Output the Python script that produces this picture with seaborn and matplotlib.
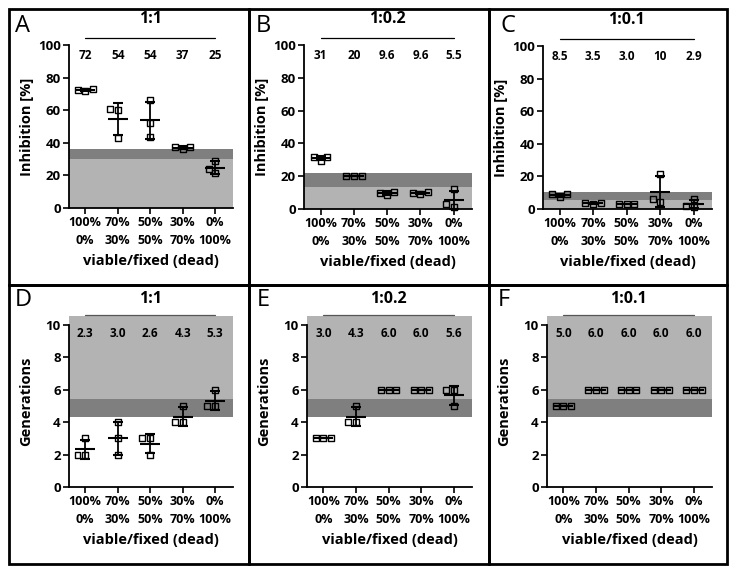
import numpy as np
import pandas as pd
import seaborn as sns
import matplotlib.pyplot as plt
from matplotlib.patches import Rectangle

sns.set_theme(style="ticks", rc={"axes.edgecolor": "black", "xtick.color": "black",
                                 "ytick.color": "black", "text.color": "black",
                                 "axes.labelcolor": "black"})
plt.rcParams["font.family"] = ["Open Sans", "DejaVu Sans"]
plt.rcParams["font.weight"] = "bold"
plt.rcParams["axes.labelweight"] = "bold"

# ---------------- data ----------------
categories = ["100%\n0%", "70%\n30%", "50%\n50%", "30%\n70%", "0%\n100%"]

inhib_A = [[71.5, 73.0, 72.5], [60.0, 60.5, 43.0], [66.0, 52.0, 43.5], [36.0, 37.5, 37.5], [21.5, 29.0, 24.0]]
inhib_B = [[31.5, 29.5, 32.0], [20.0, 20.0, 20.0], [8.5, 10.5, 10.0], [9.0, 10.5, 9.5], [12.0, 3.0, 1.5]]
inhib_C = [[7.5, 9.0, 9.0], [3.3, 3.8, 3.4], [3.0, 3.0, 3.0], [21.5, 4.0, 6.0], [1.0, 6.0, 2.0]]
gen_D = [[3, 2, 2], [4, 3, 2], [3, 3, 2], [5, 4, 4], [6, 5, 5]]
gen_E = [[3, 3, 3], [5, 4, 4], [6, 6, 6], [6, 6, 6], [6, 6, 5]]
gen_F = [[5, 5, 5], [6, 6, 6], [6, 6, 6], [6, 6, 6], [6, 6, 6]]

labels_A = ["72", "54", "54", "37", "25"]
labels_B = ["31", "20", "9.6", "9.6", "5.5"]
labels_C = ["8.5", "3.5", "3.0", "10", "2.9"]
labels_D = ["2.3", "3.0", "2.6", "4.3", "5.3"]
labels_E = ["3.0", "4.3", "6.0", "6.0", "5.6"]
labels_F = ["5.0", "6.0", "6.0", "6.0", "6.0"]

ratios = ["1:1", "1:0.2", "1:0.1", "1:1", "1:0.2", "1:0.1"]
letters = ["A", "B", "C", "D", "E", "F"]

# bands: (light_lo, light_hi, dark_lo, dark_hi)
band_A = (0, 30, 30, 36)
band_B = (0, 13.5, 13.5, 22)
band_C = (0, 5.5, 5.5, 10.5)
band_gen = (5.4, 10.55, 4.3, 5.4)

LIGHT = "#b3b3b3"
DARK = "#7f7f7f"

W, H = 740, 574
fig = plt.figure(figsize=(W / 100, H / 100), dpi=100)


def px_axes(left, right, top, bottom):
    return fig.add_axes([left / W, 1 - bottom / H, (right - left) / W, (bottom - top) / H])


panels = [
    dict(vals=inhib_A, labels=labels_A, band=band_A, box=(69, 233, 45, 208)),
    dict(vals=inhib_B, labels=labels_B, band=band_B, box=(304, 472, 45, 209)),
    dict(vals=inhib_C, labels=labels_C, band=band_C, box=(543, 712, 46, 209)),
    dict(vals=gen_D, labels=labels_D, band=band_gen, box=(69, 233, 316, 487)),
    dict(vals=gen_E, labels=labels_E, band=band_gen, box=(307, 472, 316, 487)),
    dict(vals=gen_F, labels=labels_F, band=band_gen, box=(547, 712, 316, 487)),
]

letter_pos = [(15, 32), (256, 32), (500, 32), (15, 306), (257, 306), (498, 306)]
frames = [(9, 249, 9, 285), (249, 489, 9, 285), (489, 727, 9, 285),
          (9, 249, 285, 564), (249, 489, 285, 564), (489, 727, 285, 564)]

for i, p in enumerate(panels):
    ax = px_axes(*p["box"])
    vals = np.array(p["vals"], dtype=float)
    df = pd.DataFrame({"cat": np.repeat(categories, vals.shape[1]), "val": vals.ravel()})
    gen = i >= 3

    l0, l1, d0, d1 = p["band"]
    ax.axhspan(l0, l1, color=LIGHT, lw=0, zorder=0)
    ax.axhspan(d0, d1, color=DARK, lw=0, zorder=0)

    sns.swarmplot(data=df, x="cat", y="val", order=categories, marker="s", size=4.3,
                  color="black", edgecolor="black", linewidth=1.0, ax=ax, zorder=3)
    for c in ax.collections:
        c.set_facecolor("none")
        c.set_edgecolor("black")
        c.set_clip_on(False)

    means = vals.mean(axis=1)
    sds = vals.std(axis=1, ddof=1)
    ax.errorbar(np.arange(len(categories)), means, yerr=sds, fmt="_", color="black",
                markersize=15, mew=1.5, elinewidth=1.3, capsize=3.5, capthick=1.3,
                zorder=4, clip_on=False)

    ax.set_xlim(-0.5, 4.55)
    if gen:
        ax.set_ylim(0, 10.55)
        ax.set_yticks([0, 2, 4, 6, 8, 10])
        ax.spines["left"].set_bounds(0, 10)
        ax.set_ylabel("Generations", fontsize=10.5, labelpad=9)
        line_y, num_y, title_y, line_c = 10.6, 9.5, 11.6, "#555555"
    else:
        ax.set_ylim(0, 100)
        ax.set_yticks([0, 20, 40, 60, 80, 100])
        ax.set_ylabel("Inhibition [%]", fontsize=10.5, labelpad=3)
        line_y, num_y, title_y, line_c = 104, 93.5, 116, "black"

    ax.set_xlabel("viable/fixed (dead)", fontsize=10.5, labelpad=5)
    ax.set_xticks(range(len(categories)))
    ax.set_xticklabels(categories, linespacing=1.45, multialignment="center")
    sns.despine(ax=ax)
    for s in ("left", "bottom"):
        ax.spines[s].set_linewidth(1.3)
    ax.tick_params(axis="x", length=4, width=1.2, labelsize=9, pad=2)
    ax.tick_params(axis="y", length=4, width=1.2, labelsize=9.5, pad=2)

    ax.plot([0, 4], [line_y, line_y], color=line_c, lw=0.9, clip_on=False)
    for k, t in enumerate(p["labels"]):
        ax.text(k, num_y, t, ha="center", va="center", fontsize=8.5, fontweight="bold")
    ax.text(2, title_y, ratios[i], ha="center", va="center", fontsize=11.5, fontweight="bold",
            clip_on=False)

    lx, ly = letter_pos[i]
    fig.text(lx / W, 1 - ly / H, letters[i], fontsize=17, fontweight="normal",
             ha="left", va="baseline")

    x0, x1, y0, y1 = frames[i]
    fig.add_artist(Rectangle((x0 / W, 1 - y1 / H), (x1 - x0) / W, (y1 - y0) / H,
                             transform=fig.transFigure, fill=False, lw=2.0, ec="black"))

fig.savefig("out.png", dpi=100, facecolor="white")
